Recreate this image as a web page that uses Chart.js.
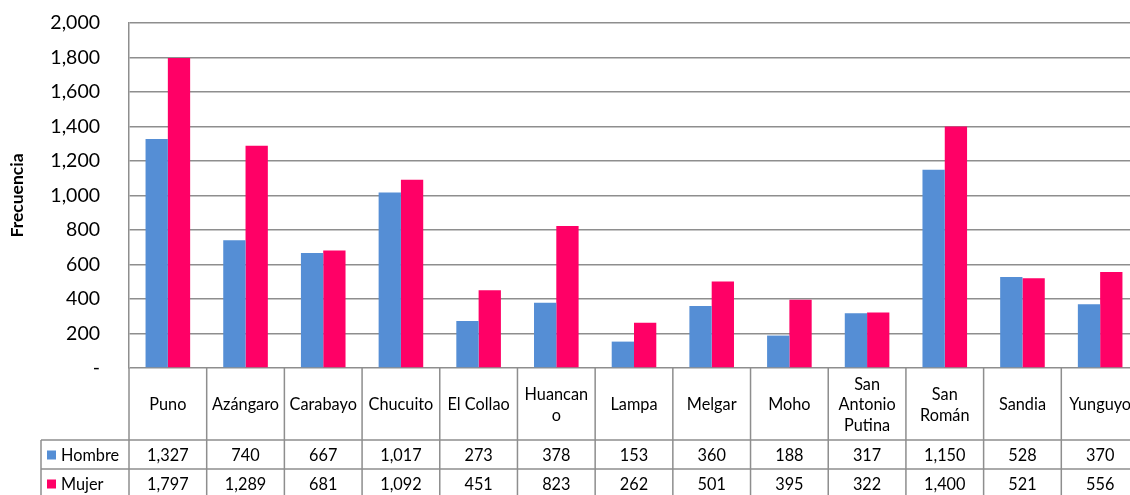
<!DOCTYPE html>
<html>
<head>
<meta charset="utf-8">
<script src="https://cdn.jsdelivr.net/npm/chart.js@4/dist/chart.umd.min.js"></script>
<style>
  html, body { margin: 0; padding: 0; background: #fff; overflow: hidden; }
  #wrap { width: 1140px; height: 495px; position: relative; }
</style>
</head>
<body>
<div id="wrap"><canvas id="chart"></canvas></div>
<script>
// Datos del gráfico
const provincias = ['Puno', 'Azángaro', 'Carabayo', 'Chucuito', 'El Collao', 'Huancano', 'Lampa',
  'Melgar', 'Moho', 'San Antonio Putina', 'San Román', 'Sandia', 'Yunguyo'];
// etiquetas tal como se parten en la tabla
const etiquetasTabla = [['Puno'], ['Azángaro'], ['Carabayo'], ['Chucuito'], ['El Collao'], ['Huancan', 'o'],
  ['Lampa'], ['Melgar'], ['Moho'], ['San', 'Antonio', 'Putina'], ['San', 'Román'], ['Sandia'], ['Yunguyo']];
const hombre = [1327, 740, 667, 1017, 273, 378, 153, 360, 188, 317, 1150, 528, 370];
const mujer = [1797, 1289, 681, 1092, 451, 823, 262, 501, 395, 322, 1400, 521, 556];
const ejeY = { min: 0, max: 2000, paso: 200 };

const AZUL = '#558ED5';
const ROSA = '#FF0066';
const LINEA = '#8e8e8e';
const FUENTE = 'Lato, "Open Sans", sans-serif';

// formato de número estilo Excel (0 -> "-")
function formato(v) {
  if (v === 0) return '-';
  return v.toLocaleString('en-US');
}

// Plugin para dibujar la tabla de datos debajo del gráfico
const tablaDatos = {
  id: 'tablaDatos',
  afterDraw(chart) {
    const ctx = chart.ctx;
    const area = chart.chartArea;
    const xs = chart.scales.x;
    const ancho = (area.right - area.left) / provincias.length;
    const y0 = area.bottom;
    const y1 = y0 + 72;
    const y2 = y1 + 29;
    const y3 = y2 + 29;
    const izq = 41;

    ctx.save();
    ctx.strokeStyle = LINEA;
    ctx.lineWidth = 1.5;
    ctx.beginPath();
    // líneas horizontales
    ctx.moveTo(izq, y1); ctx.lineTo(area.right + 5, y1);
    ctx.moveTo(izq, y2); ctx.lineTo(area.right + 5, y2);
    ctx.moveTo(izq, y1); ctx.lineTo(izq, y3);
    // líneas verticales
    for (let i = 0; i <= provincias.length; i++) {
      const x = area.left + i * ancho;
      ctx.moveTo(x, y0); ctx.lineTo(x, y3);
    }
    ctx.stroke();

    ctx.fillStyle = '#000';
    ctx.textAlign = 'center';
    ctx.textBaseline = 'middle';
    ctx.font = '16.3px ' + FUENTE;
    const alto = 20.5;
    etiquetasTabla.forEach((lineas, i) => {
      const cx = xs.getPixelForValue(i);
      const cy = (y0 + y1) / 2 + 1;
      lineas.forEach((t, j) => {
        ctx.fillText(t, cx, cy + (j - (lineas.length - 1) / 2) * alto);
      });
      ctx.fillText(formato(hombre[i]), cx, (y1 + y2) / 2 + 1);
      ctx.fillText(formato(mujer[i]), cx, (y2 + y3) / 2 + 1);
    });

    // leyenda dentro de la tabla
    ctx.textAlign = 'left';
    ctx.fillStyle = AZUL;
    ctx.fillRect(47, (y1 + y2) / 2 - 4, 9, 9);
    ctx.fillStyle = ROSA;
    ctx.fillRect(47, (y2 + y3) / 2 - 4, 9, 9);
    ctx.fillStyle = '#000';
    ctx.fillText('Hombre', 61, (y1 + y2) / 2 + 1);
    ctx.fillText('Mujer', 61, (y2 + y3) / 2 + 1);
    ctx.restore();
  }
};

new Chart(document.getElementById('chart'), {
  type: 'bar',
  data: {
    labels: provincias,
    datasets: [
      { label: 'Hombre', data: hombre, backgroundColor: AZUL },
      { label: 'Mujer', data: mujer, backgroundColor: ROSA }
    ]
  },
  options: {
    responsive: true,
    maintainAspectRatio: false,
    animation: false,
    layout: { padding: { top: 23, right: 1, bottom: 127, left: 0 } },
    datasets: { bar: { categoryPercentage: 0.574, barPercentage: 1 } },
    plugins: { legend: { display: false }, tooltip: { enabled: false } },
    scales: {
      x: { display: false },
      y: {
        min: ejeY.min,
        max: ejeY.max,
        ticks: {
          stepSize: ejeY.paso,
          color: '#000',
          padding: 0,
          font: { family: FUENTE, size: 19.5 },
          callback: v => formato(v)
        },
        grid: { color: LINEA, lineWidth: 1.5, drawTicks: true, tickLength: 29, tickColor: 'rgba(0,0,0,0)' },
        border: { display: true, color: LINEA, width: 1.5 },
        title: {
          display: true,
          text: 'Frecuencia',
          color: '#000',
          font: { family: FUENTE, size: 17.5, weight: 'bold' },
          padding: { top: 7, bottom: 0 }
        },
        afterFit: s => { s.width = 129; }
      }
    }
  },
  plugins: [tablaDatos]
});
</script>
</body>
</html>
